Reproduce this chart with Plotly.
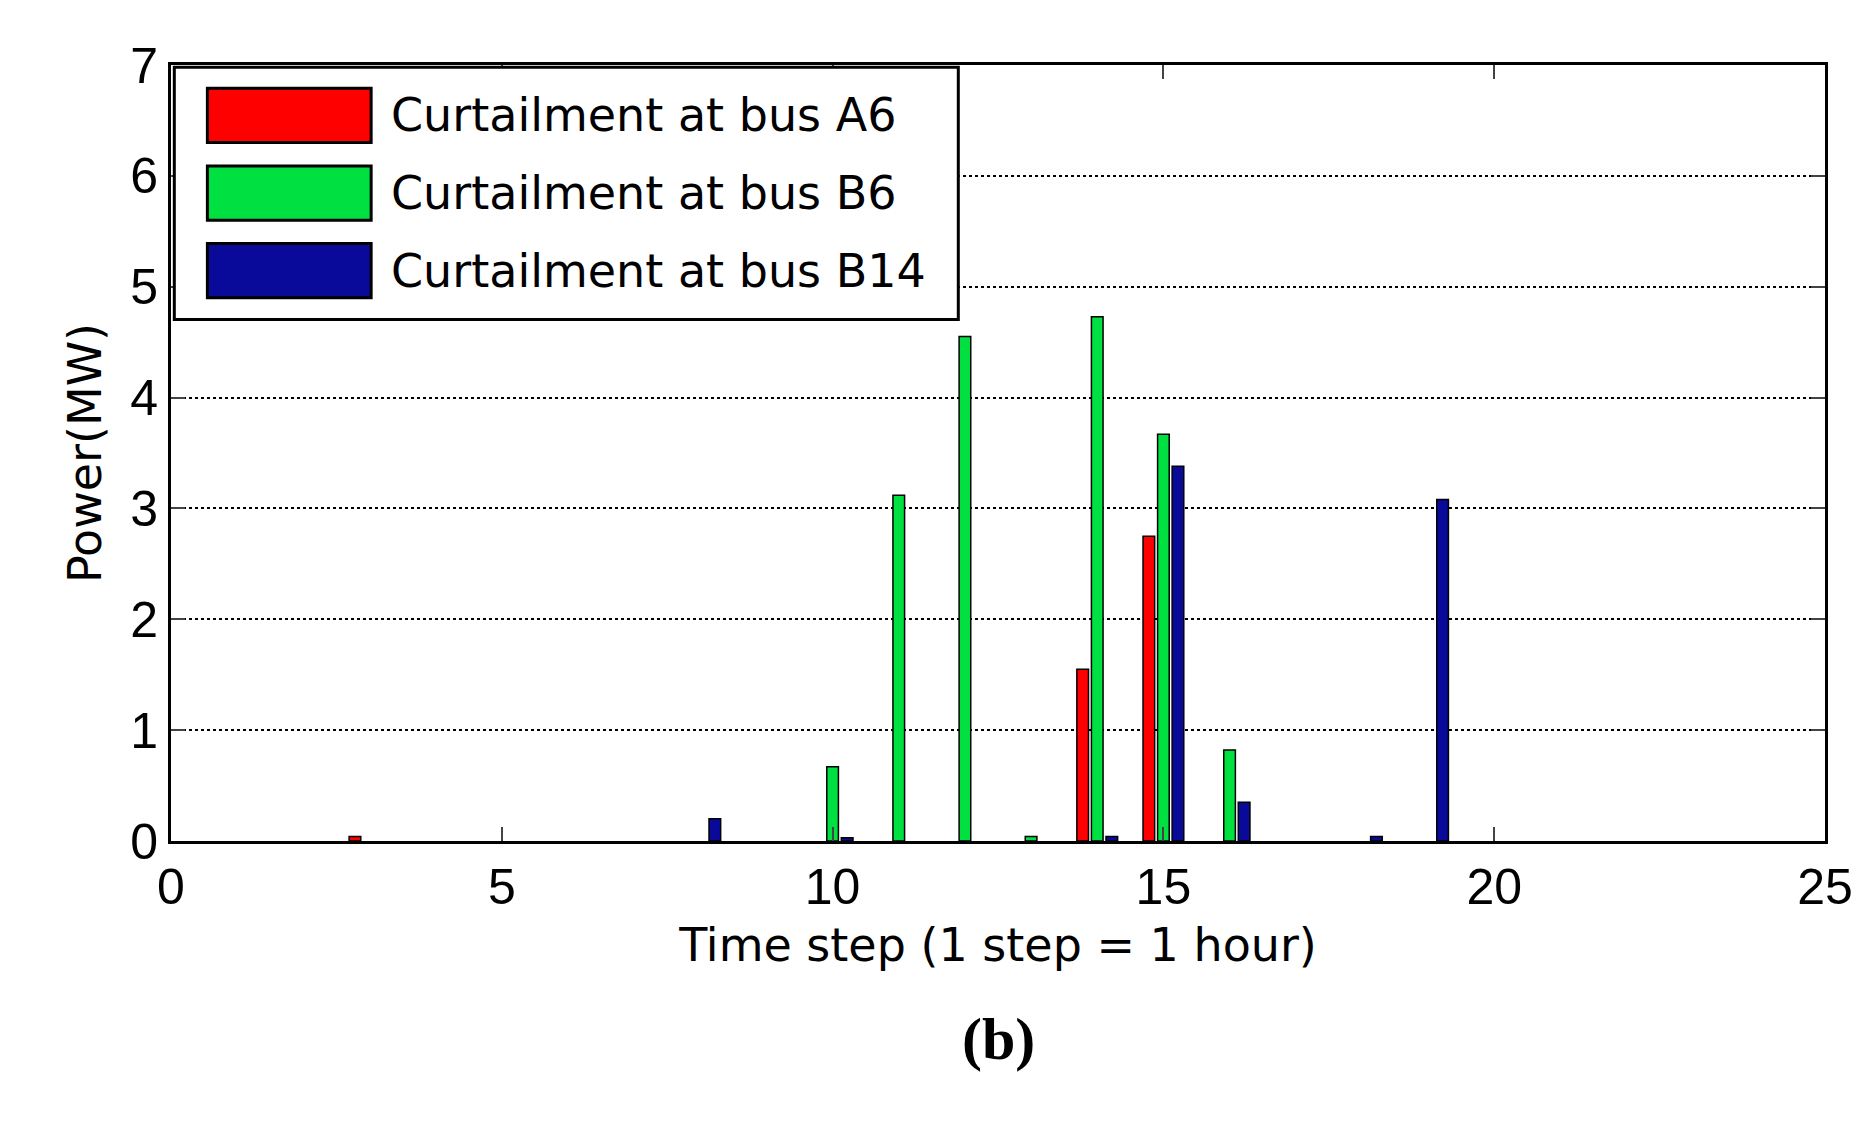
import plotly.graph_objects as go

steps = list(range(1, 25))
a6 = {3: 0.04, 14: 1.55, 15: 2.75}
b6 = {10: 0.67, 11: 3.12, 12: 4.55, 13: 0.04, 14: 4.73, 15: 3.67, 16: 0.82}
b14 = {8: 0.2, 10: 0.03, 14: 0.04, 15: 3.38, 16: 0.35, 18: 0.04, 19: 3.08}
names = ["Curtailment at bus A6", "Curtailment at bus B6", "Curtailment at bus B14"]
colors = ["#ff0000", "#00e040", "#0a0a9a"]

fig = go.Figure()
for nm, d, c in zip(names, [a6, b6, b14], colors):
    fig.add_bar(x=steps, y=[d.get(s) for s in steps], name=nm, showlegend=False,
                marker=dict(color=c, line=dict(color="black", width=1.5)))

tfont = "DejaVu Sans, Arial"
fig.update_layout(
    width=1866, height=1124, paper_bgcolor="white", plot_bgcolor="white",
    margin=dict(l=163, r=49, t=57, b=291),
    barmode="group", bargap=0.34, bargroupgap=0.2,
    font=dict(family="Liberation Sans Narrow, Liberation Sans", size=50, color="black"),
    xaxis=dict(range=[0, 25], tickvals=[0, 5, 10, 15, 20, 25], ticks="inside",
               ticklen=14, tickwidth=2, showline=True, linecolor="black", linewidth=3,
               mirror="ticks", showgrid=False, zeroline=False,
               title=dict(text="Time step (1 step = 1 hour)", font=dict(size=46, family=tfont))),
    yaxis=dict(range=[0, 7], dtick=1, ticks="inside", ticklen=14, tickwidth=2,
               showline=True, linecolor="black", linewidth=3, mirror="ticks",
               showgrid=True, gridcolor="black", griddash="dot", gridwidth=2,
               zeroline=False, title=dict(text="Power(MW)", font=dict(size=46, family=tfont))),
)
# custom legend
fig.add_shape(type="rect", xref="paper", yref="paper", x0=0.002, x1=0.476, y0=0.672, y1=0.997,
              line=dict(color="black", width=3), fillcolor="white", layer="above")
for i, (nm, c) in enumerate(zip(names, colors)):
    yc = [0.935, 0.835, 0.735][i]
    fig.add_shape(type="rect", xref="paper", yref="paper", x0=0.022, x1=0.121,
                  y0=yc - 0.035, y1=yc + 0.035, fillcolor=c,
                  line=dict(color="black", width=3), layer="above")
    fig.add_annotation(text=nm, xref="paper", yref="paper", x=0.132, y=yc, xanchor="left",
                       yanchor="middle", showarrow=False, font=dict(size=46, family=tfont))
fig.add_annotation(text="<b>(b)</b>", x=0.5, y=-0.3, xref="paper", yref="paper",
                   showarrow=False, font=dict(family="Liberation Serif, Times New Roman", size=60))
fig.write_html("out.html")
